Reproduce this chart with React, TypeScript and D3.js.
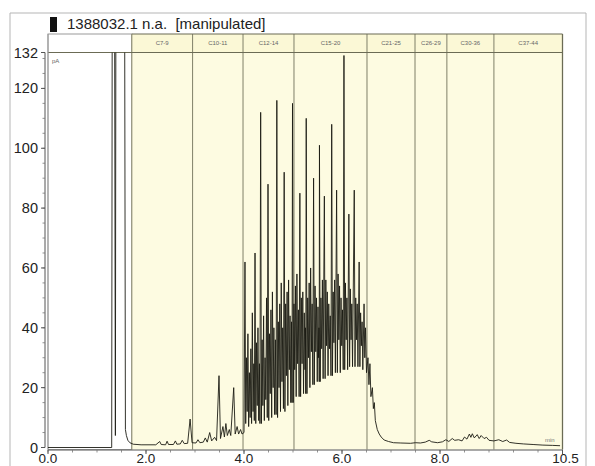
import React from "react";
import * as d3 from "d3";

// chromatogram trace, [minutes, pA]
const earlyTrace: [number, number][] = [
  [0, 0], [1.3, 0], [1.31, 140], [1.36, 140], [1.375, 4], [1.385, 140],
  [1.565, 140], [1.58, 6], [1.6, 4], [1.63, 2.4], [1.67, 1.6], [1.74, 1.1],
  [1.9, 0.9], [2.2, 0.9], [2.28, 2], [2.31, 1], [2.4, 0.9], [2.43, 2.1], [2.46, 1],
  [2.56, 1], [2.6, 2.2], [2.63, 1.1], [2.7, 1.2], [2.74, 2.4], [2.78, 1.3],
  [2.85, 1.4], [2.9, 9.5], [2.94, 1.6], [3.02, 1.5], [3.06, 2.6], [3.1, 1.6],
  [3.17, 1.8], [3.21, 3.2], [3.25, 1.8], [3.3, 5], [3.34, 2.2], [3.4, 3.4],
  [3.44, 2.3], [3.49, 24], [3.52, 3], [3.57, 7], [3.6, 3.5], [3.63, 8],
  [3.66, 4], [3.7, 6], [3.73, 4], [3.79, 20], [3.82, 4.5], [3.86, 7],
  [3.89, 4.5], [3.93, 6], [3.96, 4.5], [4.0, 5],
];

const alkaneTrace: [number, number][] = [
  [4.02, 62], [4.035, 8], [4.05, 30], [4.065, 12], [4.08, 38], [4.095, 7],
  [4.11, 25], [4.125, 10], [4.14, 33], [4.155, 8], [4.17, 45], [4.185, 12],
  [4.2, 28], [4.21, 9], [4.225, 65], [4.24, 8], [4.255, 35], [4.27, 14],
  [4.285, 40], [4.3, 9], [4.315, 28], [4.325, 8], [4.34, 112], [4.355, 8],
  [4.37, 36], [4.385, 14], [4.4, 44], [4.415, 9], [4.43, 30], [4.445, 16],
  [4.46, 50], [4.475, 10], [4.49, 88], [4.505, 9], [4.52, 38], [4.535, 18],
  [4.55, 46], [4.565, 10], [4.58, 52], [4.595, 20], [4.61, 40], [4.625, 11],
  [4.64, 36], [4.655, 11], [4.67, 116], [4.685, 10],
  [4.7, 42], [4.715, 20], [4.73, 48], [4.745, 12], [4.76, 55], [4.775, 22],
  [4.79, 40], [4.805, 13], [4.82, 92], [4.835, 12], [4.85, 48], [4.865, 24],
  [4.88, 52], [4.895, 14], [4.91, 56], [4.925, 26], [4.94, 44], [4.955, 15],
  [4.97, 42], [4.98, 15], [4.99, 115], [5.005, 15],
  [5.02, 48], [5.035, 26], [5.05, 54], [5.065, 17], [5.08, 58], [5.095, 28],
  [5.11, 46], [5.125, 17], [5.14, 85], [5.155, 17], [5.17, 50], [5.185, 28],
  [5.2, 52], [5.215, 18], [5.23, 45], [5.245, 26], [5.255, 40], [5.26, 18],
  [5.27, 110], [5.285, 18],
  [5.3, 50], [5.315, 30], [5.33, 55], [5.345, 20], [5.36, 60], [5.375, 32],
  [5.39, 48], [5.405, 21], [5.42, 90], [5.435, 21], [5.45, 54], [5.465, 32],
  [5.48, 50], [5.495, 22], [5.51, 47], [5.52, 30], [5.53, 40], [5.535, 22],
  [5.54, 101], [5.555, 22],
  [5.57, 50], [5.585, 33], [5.6, 56], [5.615, 23], [5.64, 84], [5.655, 23],
  [5.67, 56], [5.685, 34], [5.7, 52], [5.715, 24], [5.73, 48], [5.745, 33],
  [5.76, 44], [5.775, 24], [5.79, 108], [5.805, 24],
  [5.82, 52], [5.835, 35], [5.85, 56], [5.865, 25], [5.89, 86], [5.905, 25],
  [5.92, 58], [5.935, 36], [5.95, 54], [5.965, 25], [5.98, 50], [5.995, 34],
  [6.01, 46], [6.025, 26], [6.04, 131], [6.055, 26],
  [6.07, 55], [6.085, 36], [6.1, 50], [6.115, 26], [6.14, 78], [6.155, 27],
  [6.17, 53], [6.185, 36], [6.2, 48], [6.215, 27], [6.25, 86], [6.265, 27],
  [6.28, 50], [6.295, 36], [6.31, 48], [6.325, 27], [6.35, 62], [6.365, 27],
  [6.38, 45], [6.395, 34], [6.41, 42], [6.425, 26], [6.45, 48], [6.465, 30],
  [6.48, 40], [6.5, 25], [6.53, 30], [6.55, 21], [6.57, 28], [6.59, 17],
  [6.62, 20], [6.64, 13], [6.66, 15], [6.68, 9], [6.72, 6], [6.76, 4.5],
  [6.8, 3.5], [6.86, 2.5], [6.95, 2], [7.05, 1.6],
];

const lateTrace: [number, number][] = [
  [7.2, 1.5], [7.4, 1.4], [7.5, 1.6], [7.6, 1.5], [7.7, 1.8], [7.78, 2.4],
  [7.83, 1.9], [7.95, 1.6], [8.05, 1.9], [8.12, 2.6], [8.18, 2], [8.25, 3],
  [8.3, 2.4], [8.38, 2.6], [8.45, 2.2], [8.5, 3.5], [8.55, 2.8], [8.6, 4.5],
  [8.63, 3.4], [8.66, 4.6], [8.7, 3.2], [8.76, 4.3], [8.8, 3], [8.84, 4],
  [8.9, 3], [8.95, 3.4], [9, 2.4], [9.1, 2.2], [9.2, 2.6], [9.28, 2],
  [9.36, 2.5], [9.42, 1.7], [9.55, 1.4], [9.7, 1.2], [9.9, 1], [10.1, 0.8],
  [10.3, 0.7], [10.45, 0.6],
];

const bandEdges = [1.71, 2.95, 3.98, 5.02, 6.51, 7.49, 8.14, 9.1, 10.5];
const bandLabels = ["C7-9", "C10-11", "C12-14", "C15-20", "C21-25", "C26-29", "C30-36", "C37-44"];
const yTicks = [0, 20, 40, 60, 80, 100, 120, 132];
const xTicks = [0, 2, 4, 6, 8, 10.5];
const xTickLabels = ["0.0", "2.0", "4.0", "6.0", "8.0", "10.5"];

const W = 595, H = 466;
const left = 48, right = 562.5, top = 52.5, bottom = 447.5, headTop = 34;

export default function App() {
  const x = d3.scaleLinear().domain([0, 10.5]).range([left, right]);
  const y = d3.scaleLinear().domain([0, 132]).range([bottom, top]);
  const trace = [...earlyTrace, ...alkaneTrace, ...lateTrace];
  const line = d3.line<[number, number]>().x(d => x(d[0])).y(d => y(d[1]));
  const minorX = d3.range(0, 10.51, 0.5);
  const minorY = d3.range(0, 131, 5);
  const font = "Arial, 'Liberation Sans', sans-serif";

  return (
    <svg width={W} height={H} style={{ position: "fixed", left: 0, top: 0, background: "#fff" }} fontFamily={font}>
      <defs>
        <clipPath id="plot">
          <rect x={left} y={top} width={right - left} height={bottom - top + 2} />
        </clipPath>
      </defs>
      {/* outer frame */}
      <path d={`M10,${H} V13 H586 V${H}`} fill="none" stroke="#b5b5b5" strokeWidth={1} />
      <rect x={50} y={17} width={7} height={15} fill="#111" />
      <text x={67} y={29} fontSize={15} fill="#222" style={{ whiteSpace: "pre" }}>1388032.1 n.a.  [manipulated]</text>

      {/* bands */}
      <rect x={left} y={headTop} width={x(bandEdges[0]) - left} height={top - headTop} fill="#fff" stroke="#999" />
      <rect x={left} y={top} width={x(bandEdges[0]) - left} height={bottom - top + 2} fill="#fff" stroke="#aaa" />
      {bandLabels.map((lab, i) => {
        const x0 = x(bandEdges[i]), x1 = x(bandEdges[i + 1]);
        return (
          <g key={lab}>
            <rect x={x0} y={top} width={x1 - x0} height={bottom - top + 2} fill="#fdfbe1" />
            <rect x={x0} y={headTop} width={x1 - x0} height={top - headTop} fill="#fbf8d6" />
            <text x={(x0 + x1) / 2} y={45} fontSize={6} fill="#666" textAnchor="middle">{lab}</text>
          </g>
        );
      })}
      {bandEdges.map((e, i) => (
        <line key={i} x1={x(e)} x2={x(e)} y1={headTop} y2={bottom + 2} stroke="#8a8a72" strokeWidth={1.1} />
      ))}
      <line x1={x(bandEdges[0])} x2={right} y1={headTop} y2={headTop} stroke="#6b6b55" strokeWidth={1.2} />
      <line x1={left} x2={right} y1={top} y2={top} stroke="#6b6b55" strokeWidth={1.2} />
      <line x1={right} x2={right} y1={headTop} y2={bottom + 2} stroke="#6b6b55" strokeWidth={1.2} />
      <line x1={left} x2={left} y1={headTop} y2={bottom + 2} stroke="#999" strokeWidth={1} />

      <text x={52} y={63} fontSize={6} fill="#666">pA</text>
      <text x={545} y={442} fontSize={6} fill="#777">min</text>

      {/* trace */}
      <path d={line(trace) ?? ""} fill="none" stroke="#1c1c14" strokeWidth={0.9} clipPath="url(#plot)" />

      {/* y axis */}
      <line x1={45} x2={45} y1={y(132)} y2={y(0)} stroke="#555" />
      {minorY.map(v => (
        <line key={"my" + v} x1={42.5} x2={45} y1={y(v)} y2={y(v)} stroke="#777" strokeWidth={0.8} />
      ))}
      {yTicks.map(v => (
        <g key={"y" + v}>
          <line x1={41} x2={45} y1={y(v)} y2={y(v)} stroke="#555" />
          <text x={38} y={y(v) + 5} fontSize={14.5} fill="#222" textAnchor="end">{v}</text>
        </g>
      ))}

      {/* x axis */}
      <line x1={left} x2={right} y1={450} y2={450} stroke="#555" />
      {minorX.map(v => (
        <line key={"mx" + v} x1={x(v)} x2={x(v)} y1={450} y2={452.5} stroke="#777" strokeWidth={0.8} />
      ))}
      {xTicks.map((v, i) => (
        <g key={"x" + v}>
          <line x1={x(v)} x2={x(v)} y1={450} y2={454} stroke="#555" />
          <text x={x(v) + (i === 5 ? 3 : 0)} y={463} fontSize={13.5} fill="#222" textAnchor="middle">{xTickLabels[i]}</text>
        </g>
      ))}
    </svg>
  );
}
